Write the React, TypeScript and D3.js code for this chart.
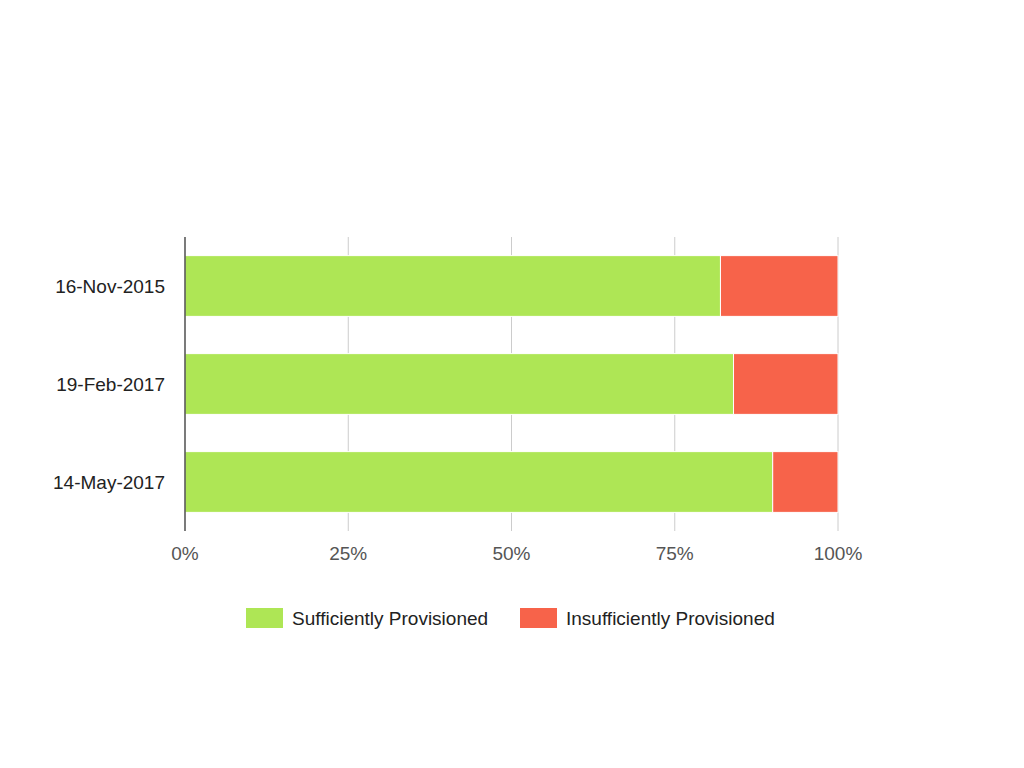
import React from "react";
import * as d3 from "d3";

const categories = ["16-Nov-2015", "19-Feb-2017", "14-May-2017"];
const sufficient = [82, 84, 90];
const insufficient = [18, 16, 10];
const seriesNames = ["Sufficiently Provisioned", "Insufficiently Provisioned"];
const seriesColors = ["#aee655", "#f7634a"];
const xTicks = [0, 25, 50, 75, 100];

export default function App() {
  const W = 1024, H = 768;
  const left = 185, right = 838, top = 237, bottom = 531;
  const x = d3.scaleLinear().domain([0, 100]).range([left, right]);
  const y = d3.scaleBand().domain(categories).range([top, bottom]).paddingInner(0.38).paddingOuter(0.19);
  const font = "'Liberation Sans', Arial, sans-serif";
  const stacks = categories.map((c, i) => [
    { c, x0: 0, x1: sufficient[i], color: seriesColors[0] },
    { c, x0: sufficient[i], x1: sufficient[i] + insufficient[i], color: seriesColors[1] },
  ]);
  return (
    <svg width={W} height={H} style={{ position: "absolute", left: 0, top: 0, background: "#fff" }}>
      {xTicks.slice(1).map((t) => (
        <line key={t} x1={x(t)} x2={x(t)} y1={top} y2={bottom} stroke="#cccccc" strokeWidth={1} />
      ))}
      {stacks.flat().map((s, i) => (
        <rect key={i} x={x(s.x0)} y={y(s.c)} width={x(s.x1) - x(s.x0)} height={y.bandwidth()} fill={s.color} stroke="#ffffff" strokeWidth={1} />
      ))}
      <line x1={left} x2={left} y1={top} y2={bottom} stroke="#333333" strokeWidth={1.3} />
      {categories.map((c) => (
        <text key={c} x={165} y={(y(c) as number) + y.bandwidth() / 2} dy="0.35em" textAnchor="end" fontFamily={font} fontSize={19} fill="#222">
          {c}
        </text>
      ))}
      {xTicks.map((t) => (
        <text key={t} x={x(t)} y={560} textAnchor="middle" fontFamily={font} fontSize={19} fill="#555">
          {t}%
        </text>
      ))}
      {seriesNames.map((n, i) => {
        const sx = i === 0 ? 246 : 520;
        return (
          <g key={n}>
            <rect x={sx} y={608} width={37} height={20} fill={seriesColors[i]} />
            <text x={sx + 46} y={618} dy="0.35em" fontFamily={font} fontSize={19} fill="#222">
              {n}
            </text>
          </g>
        );
      })}
    </svg>
  );
}
